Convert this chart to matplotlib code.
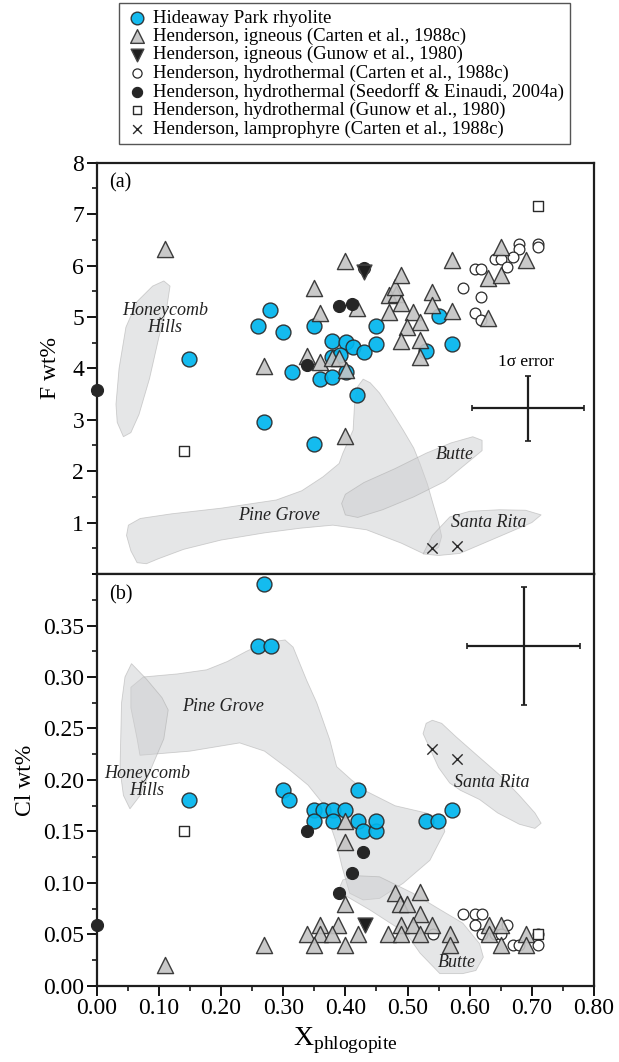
import numpy as np
import matplotlib
matplotlib.use("Agg")
import matplotlib.pyplot as plt
from matplotlib.ticker import MultipleLocator, FixedLocator

plt.rcParams['font.family'] = ['Liberation Serif', 'DejaVu Serif']
plt.rcParams['mathtext.fontset'] = 'custom'
plt.rcParams['mathtext.rm'] = 'Liberation Serif'

# ---- panel (a): F wt% ----
hp_a_x = [0.148, 0.269, 0.278, 0.26, 0.299, 0.3135, 0.349, 0.349, 0.359, 0.379, 0.379, 0.401,
          0.4125, 0.430, 0.450, 0.450, 0.379, 0.391, 0.401, 0.419, 0.530, 0.551, 0.571]
hp_a_y = [4.18, 2.95, 5.13, 4.82, 4.70, 3.92, 4.82, 2.53, 3.79, 3.83, 4.54, 4.51,
          4.41, 4.32, 4.47, 4.82, 4.23, 4.26, 3.93, 3.48, 4.34, 5.02, 4.47]

ig_a_x = [0.11, 0.269, 0.339, 0.349, 0.359, 0.360, 0.379, 0.39, 0.400, 0.401, 0.400, 0.418,
          0.470, 0.482, 0.480, 0.490, 0.490, 0.470, 0.509, 0.520, 0.4995, 0.540, 0.540,
          0.571, 0.571, 0.490, 0.520, 0.520, 0.630, 0.650, 0.630, 0.650, 0.690]
ig_a_y = [6.32, 4.05, 4.24, 5.57, 5.07, 4.13, 4.20, 4.20, 6.09, 3.96, 2.68, 5.17,
          5.43, 5.45, 5.59, 5.82, 5.27, 5.10, 5.10, 4.91, 4.81, 5.49, 5.23,
          5.12, 6.10, 4.54, 4.56, 4.23, 5.75, 5.82, 4.97, 6.37, 6.10]

gun_ig_a_x = [0.43]
gun_ig_a_y = [5.88]

hyd_a_x = [0.679, 0.679, 0.71, 0.71, 0.640, 0.651, 0.670, 0.660, 0.609, 0.619, 0.589, 0.619, 0.609, 0.619]
hyd_a_y = [6.41, 6.33, 6.42, 6.37, 6.12, 6.12, 6.17, 5.97, 5.94, 5.93, 5.57, 5.38, 5.07, 4.94]

see_a_x = [0.0, 0.339, 0.39, 0.41, 0.43]
see_a_y = [3.58, 4.07, 5.21, 5.25, 5.96]

gun_hy_a_x = [0.71, 0.14]
gun_hy_a_y = [7.15, 2.39]

lam_a_x = [0.54, 0.58]
lam_a_y = [0.50, 0.54]

# ---- panel (b): Cl wt% ----
hp_b_x = [0.269, 0.26, 0.28, 0.148, 0.299, 0.31, 0.4196, 0.349, 0.364, 0.380, 0.399, 0.349,
          0.380, 0.42, 0.4287, 0.450, 0.450, 0.530, 0.549, 0.571]
hp_b_y = [0.390, 0.330, 0.330, 0.181, 0.190, 0.181, 0.190, 0.171, 0.171, 0.171, 0.171, 0.160,
          0.160, 0.160, 0.150, 0.150, 0.160, 0.160, 0.160, 0.171]

ig_b_x = [0.399, 0.399, 0.399, 0.359, 0.388, 0.339, 0.359, 0.379, 0.349, 0.399, 0.269, 0.110,
          0.4206, 0.469, 0.480, 0.520, 0.4876, 0.4995, 0.520, 0.490, 0.509, 0.540, 0.490,
          0.520, 0.569, 0.569, 0.631, 0.651, 0.631, 0.651, 0.691, 0.691]
ig_b_y = [0.160, 0.140, 0.080, 0.059, 0.059, 0.050, 0.050, 0.050, 0.040, 0.040, 0.040, 0.020,
          0.050, 0.050, 0.090, 0.091, 0.080, 0.080, 0.070, 0.059, 0.059, 0.059, 0.050,
          0.050, 0.050, 0.040, 0.059, 0.059, 0.050, 0.040, 0.050, 0.040]

gun_ig_b_x = [0.4313]
gun_ig_b_y = [0.059]

hyd_b_x = [0.589, 0.609, 0.620, 0.609, 0.660, 0.620, 0.641, 0.651, 0.541, 0.669, 0.679, 0.71, 0.71]
hyd_b_y = [0.070, 0.070, 0.070, 0.059, 0.059, 0.050, 0.050, 0.050, 0.050, 0.040, 0.040, 0.040, 0.050]

see_b_x = [0.0, 0.339, 0.4287, 0.41, 0.39]
see_b_y = [0.059, 0.150, 0.130, 0.110, 0.090]

gun_hy_b_x = [0.14, 0.71]
gun_hy_b_y = [0.150, 0.050]

lam_b_x = [0.54, 0.58]
lam_b_y = [0.230, 0.220]

# ---- field outlines ----
honey_a = [(0.043, 2.67), (0.033, 2.95), (0.031, 3.3), (0.036, 4.0), (0.047, 4.8), (0.065, 5.3),
           (0.09, 5.6), (0.108, 5.7), (0.118, 5.6), (0.113, 5.2), (0.1, 4.6), (0.085, 3.8),
           (0.068, 3.1), (0.055, 2.75)]
pine_a = [(0.051, 0.95), (0.07, 1.08), (0.12, 1.17), (0.2, 1.28), (0.289, 1.44), (0.33, 1.62),
          (0.364, 1.89), (0.39, 2.15), (0.396, 2.35), (0.4125, 2.80), (0.415, 3.35), (0.42, 3.65),
          (0.4287, 3.79), (0.44, 3.72), (0.455, 3.52), (0.475, 3.15), (0.493, 2.80), (0.51, 2.45),
          (0.52, 2.15), (0.532, 1.75), (0.541, 1.37), (0.55, 1.0), (0.555, 0.73), (0.55, 0.52),
          (0.541, 0.45), (0.525, 0.40), (0.49, 0.60), (0.434, 0.86), (0.38, 0.95), (0.327, 0.89),
          (0.27, 0.80), (0.2, 0.66), (0.14, 0.48), (0.10, 0.30), (0.08, 0.20), (0.065, 0.22),
          (0.055, 0.45), (0.048, 0.75)]
butte_a = [(0.394, 1.37), (0.40, 1.55), (0.43, 1.78), (0.48, 2.05), (0.53, 2.35), (0.57, 2.55),
           (0.605, 2.67), (0.62, 2.6), (0.62, 2.4), (0.595, 2.15), (0.56, 1.8), (0.51, 1.5),
           (0.46, 1.25), (0.42, 1.1), (0.40, 1.15)]
rita_a = [(0.525, 0.39), (0.54, 0.75), (0.568, 1.11), (0.60, 1.22), (0.648, 1.25), (0.69, 1.24),
          (0.715, 1.15), (0.70, 1.0), (0.648, 0.73), (0.584, 0.40), (0.55, 0.36)]

pine_b = [(0.055, 0.29), (0.075, 0.300), (0.13, 0.303), (0.177, 0.307), (0.21, 0.315),
          (0.241, 0.325), (0.27, 0.333), (0.303, 0.336), (0.316, 0.329), (0.3376, 0.297),
          (0.354, 0.275), (0.375, 0.239), (0.386, 0.213), (0.41, 0.20), (0.434, 0.189),
          (0.48, 0.175), (0.53, 0.168), (0.555, 0.162), (0.56, 0.15), (0.536, 0.122),
          (0.493, 0.0997), (0.455, 0.085), (0.4287, 0.0835), (0.407, 0.090), (0.395, 0.115),
          (0.385, 0.14), (0.364, 0.177), (0.34, 0.195), (0.31, 0.210), (0.27, 0.228),
          (0.23, 0.236), (0.15, 0.228), (0.0696, 0.224), (0.065, 0.24), (0.055, 0.27)]
honey_b = [(0.056, 0.313), (0.08, 0.298), (0.105, 0.28), (0.115, 0.268), (0.108, 0.24),
           (0.091, 0.216), (0.07, 0.185), (0.0535, 0.172), (0.043, 0.185), (0.0375, 0.210),
           (0.040, 0.275), (0.0455, 0.300)]
rita_b = [(0.525, 0.245), (0.53, 0.255), (0.54, 0.258), (0.555, 0.255), (0.578, 0.242),
          (0.61, 0.225), (0.648, 0.205), (0.68, 0.185), (0.705, 0.168), (0.715, 0.158),
          (0.705, 0.153), (0.68, 0.157), (0.645, 0.168), (0.616, 0.181), (0.585, 0.19),
          (0.568, 0.197), (0.55, 0.212), (0.538, 0.228)]
butte_b = [(0.396, 0.103), (0.42, 0.107), (0.455, 0.106), (0.509, 0.090), (0.55, 0.075),
           (0.589, 0.061), (0.616, 0.041), (0.622, 0.028), (0.61, 0.015), (0.589, 0.012),
           (0.552, 0.012), (0.52, 0.032), (0.498, 0.051), (0.439, 0.074), (0.402, 0.087),
           (0.391, 0.096)]

labels = ['Hideaway Park rhyolite',
          'Henderson, igneous (Carten et al., 1988c)',
          'Henderson, igneous (Gunow et al., 1980)',
          'Henderson, hydrothermal (Carten et al., 1988c)',
          'Henderson, hydrothermal (Seedorff & Einaudi, 2004a)',
          'Henderson, hydrothermal (Gunow et al., 1980)',
          'Henderson, lamprophyre (Carten et al., 1988c)']

BLUE = '#00b6ee'
EDGE = '#2a2a2a'
FIELD = '#cdced0'

fig = plt.figure(figsize=(6.19, 10.62), dpi=100)
ax1 = fig.add_axes([0.1562, 0.4595, 0.8034, 0.3873])
ax2 = fig.add_axes([0.1562, 0.0716, 0.8034, 0.3879])


def fields(ax, polys):
    for p in polys:
        p = np.array(p)
        ax.fill(p[:, 0], p[:, 1], facecolor=FIELD, alpha=0.5, edgecolor='#a5a5a5',
                linewidth=0.6, zorder=1)


def points(ax, d):
    hs = []
    hs.append(ax.scatter(d[0][0], d[0][1], s=115, marker='o', facecolor=BLUE, edgecolor=EDGE,
                         linewidth=1.0, alpha=0.92, zorder=4))
    hs.append(ax.scatter(d[1][0], d[1][1], s=135, marker='^', facecolor='#c4c4c4', edgecolor=EDGE,
                         linewidth=1.0, alpha=0.9, zorder=5))
    hs.append(ax.scatter(d[2][0], d[2][1], s=115, marker='v', facecolor='#1e1e1e', edgecolor='#444444',
                         linewidth=1.0, zorder=6))
    hs.append(ax.scatter(d[3][0], d[3][1], s=60, marker='o', facecolor='white', edgecolor=EDGE,
                         linewidth=0.9, zorder=3))
    hs.append(ax.scatter(d[4][0], d[4][1], s=75, marker='o', facecolor='#262626', edgecolor='#262626',
                         linewidth=0.8, zorder=5, clip_on=False))
    hs.append(ax.scatter(d[5][0], d[5][1], s=55, marker='s', facecolor='white', edgecolor=EDGE,
                         linewidth=1.0, zorder=3))
    hs.append(ax.scatter(d[6][0], d[6][1], s=55, marker='x', color=EDGE, linewidth=1.0, zorder=3))
    return hs


fields(ax1, [honey_a, pine_a, butte_a, rita_a])
fields(ax2, [pine_b, honey_b, rita_b, butte_b])

handles = points(ax1, [(hp_a_x, hp_a_y), (ig_a_x, ig_a_y), (gun_ig_a_x, gun_ig_a_y),
                       (hyd_a_x, hyd_a_y), (see_a_x, see_a_y), (gun_hy_a_x, gun_hy_a_y),
                       (lam_a_x, lam_a_y)])
points(ax2, [(hp_b_x, hp_b_y), (ig_b_x, ig_b_y), (gun_ig_b_x, gun_ig_b_y),
             (hyd_b_x, hyd_b_y), (see_b_x, see_b_y), (gun_hy_b_x, gun_hy_b_y),
             (lam_b_x, lam_b_y)])

# 1 sigma error crosses
ax1.errorbar([0.694], [3.22], xerr=[0.0905], yerr=[0.635], fmt='none', ecolor='#1e1e1e',
             elinewidth=1.6, capsize=2.5, capthick=1.2, zorder=6)
ax2.errorbar([0.687], [0.330], xerr=[0.091], yerr=[0.057], fmt='none', ecolor='#1e1e1e',
             elinewidth=1.6, capsize=2.5, capthick=1.2, zorder=6)
ax1.text(0.691, 4.12, '1σ error', ha='center', va='center', fontsize=12.5)

lab = dict(style='italic', fontsize=13, ha='center', va='center', color='#222222', zorder=7)
ax1.text(0.11, 4.96, 'Honeycomb\nHills', linespacing=1.0, **lab)
ax1.text(0.2935, 1.13, 'Pine Grove', **lab)
ax1.text(0.576, 2.32, 'Butte', **lab)
ax1.text(0.63, 1.0, 'Santa Rita', **lab)
ax2.text(0.2035, 0.271, 'Pine Grove', **lab)
ax2.text(0.081, 0.198, 'Honeycomb\nHills', linespacing=1.0, **lab)
ax2.text(0.635, 0.198, 'Santa Rita', **lab)
ax2.text(0.58, 0.023, 'Butte', **lab)
ax1.text(0.0385, 7.60, '(a)', fontsize=14.5, ha='center', va='center')
ax2.text(0.0385, 0.380, '(b)', fontsize=14.5, ha='center', va='center')

for ax in (ax1, ax2):
    ax.set_xlim(0, 0.8)
    for s in ax.spines.values():
        s.set_linewidth(1.6)
        s.set_color('#1e1e1e')
    ax.tick_params(which='major', direction='out', length=7, width=1.3, labelsize=17,
                   top=False, right=False, pad=2)
    ax.tick_params(which='minor', direction='out', length=3.5, width=1.1, top=False, right=False)
    ax.xaxis.set_minor_locator(MultipleLocator(0.05))

ax1.set_ylim(0, 8)
ax1.yaxis.set_major_locator(FixedLocator([1, 2, 3, 4, 5, 6, 7, 8]))
ax1.yaxis.set_minor_locator(MultipleLocator(0.5))
ax1.tick_params(axis='x', which='both', bottom=False, labelbottom=False)
ax1.set_ylabel('F wt%', fontsize=17, labelpad=8)

ax2.set_ylim(0, 0.40)
ax2.yaxis.set_major_locator(FixedLocator([0, 0.05, 0.10, 0.15, 0.20, 0.25, 0.30, 0.35]))
ax2.yaxis.set_minor_locator(MultipleLocator(0.025))
ax2.yaxis.set_major_formatter(plt.FormatStrFormatter('%.2f'))
ax2.xaxis.set_major_locator(MultipleLocator(0.1))
ax2.xaxis.set_major_formatter(plt.FormatStrFormatter('%.2f'))
ax2.set_ylabel('Cl wt%', fontsize=17, labelpad=5)
ax2.set_xlabel(r'X$_{\rm phlogopite}$', fontsize=20, labelpad=4)

fig.legend(handles, labels, loc='upper center', bbox_to_anchor=(0.557, 0.999), fontsize=13.5,
           frameon=True, fancybox=False, edgecolor='#555555', framealpha=1,
           labelspacing=0.06, handletextpad=0.25, handlelength=1.2, borderpad=0.35,
           borderaxespad=0.1, markerscale=0.85)

fig.savefig('out.png', dpi=100)
